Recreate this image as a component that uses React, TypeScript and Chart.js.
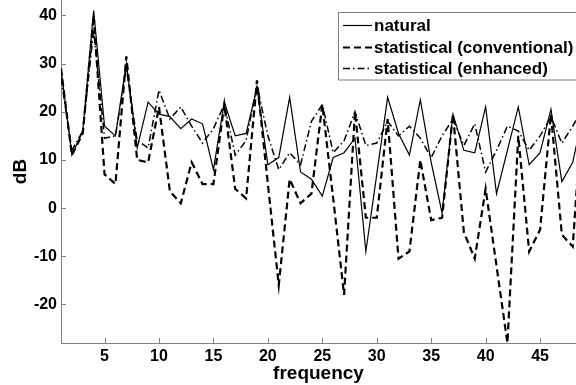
import React, { useEffect, useRef } from "react";
import { Chart, registerables } from "chart.js";

Chart.register(...registerables);

const frequency = [1, 2, 3, 4, 5, 6, 7, 8, 9, 10, 11, 12, 13, 14, 15, 16, 17, 18, 19, 20, 21, 22, 23, 24, 25, 26, 27, 28, 29, 30, 31, 32, 33, 34, 35, 36, 37, 38, 39, 40, 41, 42, 43, 44, 45, 46, 47, 48, 49];
const natural = [29, 11, 16, 41, 17, 15, 30, 12.5, 22, 19.5, 19, 16.5, 18.5, 17.5, 8, 22, 15, 15.5, 25, 9, 10.5, 23, 7.5, 6, 2.5, 10.5, 11.5, 14.5, -9, 7, 23, 15.5, 11, 22.5, 9.5, -1, 19.5, 12, 11.5, 21, 3, 12, 21, 9, 11.5, 20.5, 5.5, 9.5, 20];
const conventional = [29, 11, 15.5, 40, 7, 5, 31.5, 10, 9.5, 21, 3.5, 1, 9.5, 5, 5, 21.5, 4, 2, 26.5, 5, -16, 6, 1, 3, 21.5, 2, -18, 20, -2, -2, 18.5, -10.5, -9, 10, -2.5, -2, 19.5, -5, -10.5, 4, -12, -28, 15, -9, -4.5, 19.5, -5.5, -8, 25];
const enhanced = [27, 12, 16, 37, 14.5, 15, 29, 14, 12.5, 24.5, 18.5, 21, 17, 13.5, 16.5, 21.5, 11, 14, 25.5, 15, 8, 11.5, 9, 18, 21.5, 11.5, 14, 20, 13, 13.5, 18, 15, 17, 14.5, 10.5, 15, 18.5, 13, 17.5, 7.5, 12, 17, 16, 12, 15, 19, 13.5, 17, 21];
const xTicks = [5, 10, 15, 20, 25, 30, 35, 40, 45];
const yTicks = [-20, -10, 0, 10, 20, 30, 40];
const seriesLabels = ["natural", "statistical (conventional)", "statistical (enhanced)"];

const FONT = "'Liberation Sans', Arial, Helvetica, sans-serif";
const AXIS_GRAY = "#808080";

const innerTicks = {
  id: "innerTicks",
  afterDraw(chart: any) {
    const { ctx, chartArea, scales } = chart;
    ctx.save();
    ctx.strokeStyle = AXIS_GRAY;
    ctx.lineWidth = 1;
    ctx.beginPath();
    scales.x.ticks.forEach((t: any) => {
      const px = Math.round(scales.x.getPixelForValue(t.value)) + 0.5;
      ctx.moveTo(px, chartArea.bottom);
      ctx.lineTo(px, chartArea.bottom - 5);
    });
    scales.y.ticks.forEach((t: any) => {
      const py = Math.round(scales.y.getPixelForValue(t.value)) + 0.5;
      ctx.moveTo(chartArea.left, py);
      ctx.lineTo(chartArea.left + 5, py);
    });
    ctx.stroke();
    ctx.restore();
  },
};

const boxLegend = {
  id: "boxLegend",
  afterDraw(chart: any) {
    const { ctx } = chart;
    const bx = 338.5, by = 12.5, bw = 300, bh = 67.5;
    ctx.save();
    ctx.fillStyle = "#ffffff";
    ctx.fillRect(bx, by, bw, bh);
    ctx.strokeStyle = AXIS_GRAY;
    ctx.lineWidth = 1;
    ctx.strokeRect(bx, by, bw, bh);
    const rows = [25, 47, 68];
    chart.data.datasets.forEach((ds: any, i: number) => {
      const y = rows[i] + 0.5;
      ctx.strokeStyle = "#000";
      ctx.lineWidth = ds.borderWidth;
      ctx.setLineDash(ds.borderDash || []);
      ctx.beginPath();
      ctx.moveTo(343, y);
      ctx.lineTo(372, y);
      ctx.stroke();
      ctx.setLineDash([]);
      ctx.fillStyle = "#000";
      ctx.font = `bold 17px ${FONT}`;
      ctx.textBaseline = "middle";
      ctx.textAlign = "left";
      ctx.fillText(ds.label, 374, rows[i] + 1);
    });
    ctx.restore();
  },
};

export default function App() {
  const ref = useRef<HTMLCanvasElement>(null);
  useEffect(() => {
    if (!ref.current) return;
    const mk = (vals: number[]) => frequency.map((x, i) => ({ x, y: vals[i] }));
    const chart = new Chart(ref.current, {
      type: "line",
      data: {
        datasets: [
          { label: seriesLabels[0], data: mk(natural), borderColor: "#000", borderWidth: 1.2, borderDash: [], pointRadius: 0, tension: 0, fill: false },
          { label: seriesLabels[1], data: mk(conventional), borderColor: "#000", borderWidth: 2.2, borderDash: [7, 4], pointRadius: 0, tension: 0, fill: false },
          { label: seriesLabels[2], data: mk(enhanced), borderColor: "#000", borderWidth: 1.5, borderDash: [7, 3, 1.5, 3], pointRadius: 0, tension: 0, fill: false },
        ],
      },
      options: {
        animation: false,
        responsive: false,
        devicePixelRatio: 1,
        layout: { padding: 0 },
        plugins: { legend: { display: false }, tooltip: { enabled: false } },
        scales: {
          x: {
            type: "linear",
            min: 1,
            max: 48.3,
            afterBuildTicks: (s: any) => { s.ticks = xTicks.map((v) => ({ value: v })); },
            afterFit: (s: any) => { s.paddingLeft = 0; s.paddingRight = 0; s.height = 42; },
            grid: { display: false, drawTicks: false },
            border: { display: true, color: AXIS_GRAY, width: 1 },
            ticks: { color: "#000", font: { family: FONT, size: 16, weight: "bold" }, padding: 4, maxRotation: 0, autoSkip: false },
            title: { display: true, text: "frequency", color: "#000", font: { family: FONT, size: 19, weight: "bold" }, padding: { top: 0, bottom: 0 } },
          },
          y: {
            type: "linear",
            min: -28,
            max: 43.2,
            afterBuildTicks: (s: any) => { s.ticks = yTicks.map((v) => ({ value: v })); },
            afterFit: (s: any) => { s.paddingTop = 0; s.paddingBottom = 0; s.width = 61; },
            grid: { display: false, drawTicks: false },
            border: { display: true, color: AXIS_GRAY, width: 1 },
            ticks: { color: "#000", font: { family: FONT, size: 16, weight: "bold" }, padding: 4 },
            title: { display: true, text: "dB", color: "#000", font: { family: FONT, size: 19, weight: "bold" }, padding: { top: 9, bottom: 0 } },
          },
        },
      },
      plugins: [innerTicks, boxLegend],
    });
    return () => chart.destroy();
  }, []);
  return (
    <div style={{ position: "absolute", left: 0, top: 0, width: 576, height: 385, background: "#fff" }}>
      <canvas ref={ref} width={576} height={385} style={{ display: "block" }} />
    </div>
  );
}
